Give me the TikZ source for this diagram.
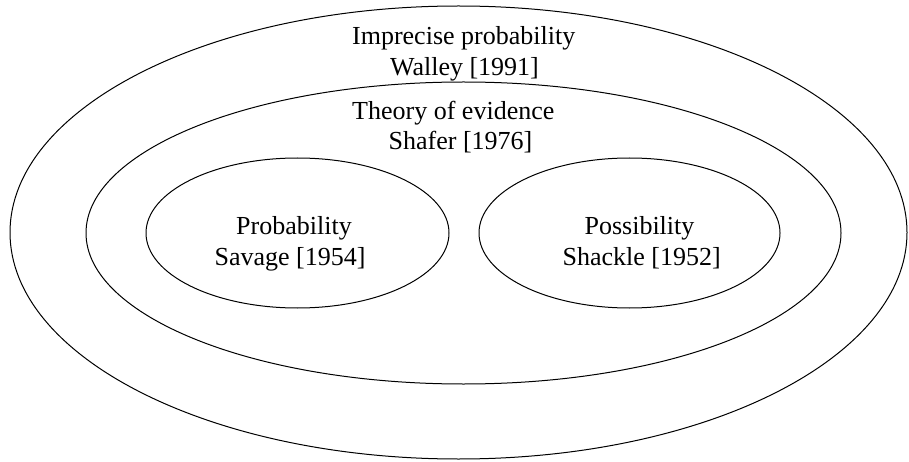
\documentclass[tikz,border=0pt]{standalone}
\usepackage{fontspec}
\setmainfont{Liberation Serif}
\usetikzlibrary{shapes.geometric}
\begin{document}
\begin{tikzpicture}[x=1pt,y=-1pt,
  set/.style={draw=black,line width=1pt,ellipse,inner sep=0pt},
  lbl/.style={anchor=base,inner sep=0pt,font=\fontsize{26}{31}\selectfont}]
\useasboundingbox (0,0) rectangle (909,462);
\node[set,minimum width=897pt,minimum height=453pt] (outer) at (458.5,232.5) {};
\node[set,minimum width=755pt,minimum height=302pt] (middle) at (463.5,233) {};
\node[set,minimum width=303pt,minimum height=150pt] (prob) at (297.5,233) {};
\node[set,minimum width=301pt,minimum height=150pt] (poss) at (629.5,233) {};
\node[lbl] (t1) at (463.7,45) {Imprecise probability};
\node[lbl] (t2) at (464.5,76) {Walley [1991]};
\node[lbl] (t3) at (453.3,120) {Theory of evidence};
\node[lbl] (t4) at (460.5,150) {Shafer [1976]};
\node[lbl] (t5) at (294,234) {Probability};
\node[lbl] (t6) at (290,265) {Savage [1954]};
\node[lbl] (t7) at (639.5,234) {Possibility};
\node[lbl] (t8) at (641.7,265) {Shackle [1952]};
\end{tikzpicture}
\end{document}
